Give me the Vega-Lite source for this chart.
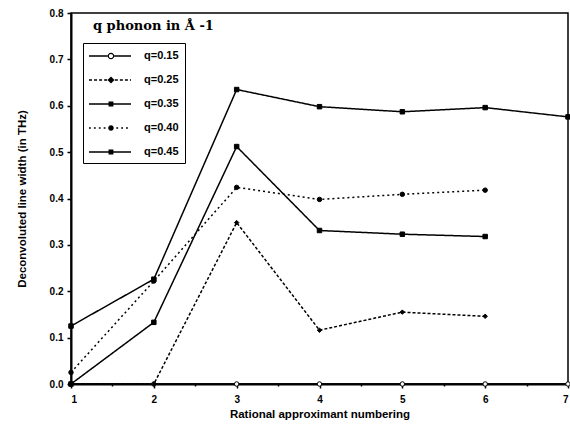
{
 "$schema": "https://vega.github.io/schema/vega-lite/v6.json",
 "width": 497,
 "height": 371,
 "autosize": {"type": "none"},
 "padding": {"left": 71, "top": 13, "right": 2, "bottom": 40},
 "background": "white",
 "title": {"text": "q phonon in Å -1", "anchor": "start", "frame": "group", "offset": -17, "dx": 22, "dy": 18, "font": "DejaVu Serif", "fontSize": 13, "fontWeight": "bold", "color": "black", "baseline": "alphabetic"},
 "config": {
  "view": {"stroke": "black", "strokeWidth": 1.5},
  "axis": {"grid": false, "domainColor": "black", "domainWidth": 2, "tickColor": "black", "tickWidth": 1.5, "labelColor": "black", "titleColor": "black", "labelFont": "Liberation Sans", "titleFont": "Liberation Sans", "labelFontWeight": "bold", "titleFontWeight": "bold", "labelFontSize": 10, "titleFontSize": 11.5}
 },
 "data": {"values": [
  {"s": "q=0.15", "x": 1, "y": 0}, {"s": "q=0.15", "x": 2, "y": 0}, {"s": "q=0.15", "x": 3, "y": 0}, {"s": "q=0.15", "x": 4, "y": 0}, {"s": "q=0.15", "x": 5, "y": 0}, {"s": "q=0.15", "x": 6, "y": 0}, {"s": "q=0.15", "x": 7, "y": 0},
  {"s": "q=0.25", "x": 1, "y": 0}, {"s": "q=0.25", "x": 2, "y": 0}, {"s": "q=0.25", "x": 3, "y": 0.348}, {"s": "q=0.25", "x": 4, "y": 0.116}, {"s": "q=0.25", "x": 5, "y": 0.155}, {"s": "q=0.25", "x": 6, "y": 0.146},
  {"s": "q=0.35", "x": 1, "y": 0}, {"s": "q=0.35", "x": 2, "y": 0.133}, {"s": "q=0.35", "x": 3, "y": 0.512}, {"s": "q=0.35", "x": 4, "y": 0.331}, {"s": "q=0.35", "x": 5, "y": 0.323}, {"s": "q=0.35", "x": 6, "y": 0.318},
  {"s": "q=0.40", "x": 1, "y": 0.025}, {"s": "q=0.40", "x": 2, "y": 0.222}, {"s": "q=0.40", "x": 3, "y": 0.424}, {"s": "q=0.40", "x": 4, "y": 0.398}, {"s": "q=0.40", "x": 5, "y": 0.409}, {"s": "q=0.40", "x": 6, "y": 0.418},
  {"s": "q=0.45", "x": 1, "y": 0.125}, {"s": "q=0.45", "x": 2, "y": 0.226}, {"s": "q=0.45", "x": 3, "y": 0.635}, {"s": "q=0.45", "x": 4, "y": 0.598}, {"s": "q=0.45", "x": 5, "y": 0.587}, {"s": "q=0.45", "x": 6, "y": 0.596}, {"s": "q=0.45", "x": 7, "y": 0.576}
 ]},
 "layer": [
  {
   "mark": {"type": "line", "color": "black", "strokeWidth": 1.5},
   "encoding": {
    "x": {"field": "x", "type": "quantitative", "scale": {"domain": [1, 7], "nice": false, "zero": false}, "axis": {"values": [1, 1.5, 2, 2.5, 3, 3.5, 4, 4.5, 5, 5.5, 6, 6.5, 7], "labelExpr": "datum.value % 1 == 0 ? format(datum.value, 'd') : ''", "tickSize": {"condition": {"test": "datum.value % 1 == 0", "value": 4}, "value": 2}, "labelPadding": 6, "title": "Rational approximant numbering", "titlePadding": 4}},
    "y": {"field": "y", "type": "quantitative", "scale": {"domain": [0, 0.8], "nice": false}, "axis": {"values": [0, 0.05, 0.1, 0.15, 0.2, 0.25, 0.3, 0.35, 0.4, 0.45, 0.5, 0.55, 0.6, 0.65, 0.7, 0.75, 0.8], "labelExpr": "abs(datum.value * 10 - round(datum.value * 10)) < 0.001 ? format(datum.value, '.1f') : ''", "tickSize": {"condition": {"test": "abs(datum.value * 10 - round(datum.value * 10)) < 0.001", "value": 4}, "value": 2}, "labelPadding": 4, "title": "Deconvoluted line width (in THz)", "titlePadding": 22}},
    "strokeDash": {"field": "s", "type": "nominal", "scale": {"range": [[1, 0], [3, 2], [1, 0], [2, 3], [1, 0]]}, "legend": null}
   }
  },
  {
   "mark": {"type": "point", "filled": true, "stroke": "black", "strokeWidth": 1, "size": 20, "opacity": 1},
   "encoding": {
    "x": {"field": "x", "type": "quantitative"},
    "y": {"field": "y", "type": "quantitative"},
    "shape": {"field": "s", "type": "nominal", "scale": {"range": ["circle", "diamond", "square", "circle", "square"]}, "legend": null},
    "fill": {"field": "s", "type": "nominal", "scale": {"range": ["white", "black", "black", "black", "black"]}, "legend": null}
   }
  },
  {
   "transform": [{"filter": "datum.x > 100"}],
   "mark": {"type": "point", "filled": true, "color": "black", "size": 196, "opacity": 1},
   "encoding": {
    "x": {"field": "x", "type": "quantitative"},
    "y": {"field": "y", "type": "quantitative"},
    "shape": {"field": "s", "type": "nominal", "scale": {"domain": ["q=0.15", "q=0.25", "q=0.35", "q=0.40", "q=0.45"], "range": [
      "M-1,-0.11L1.67,-0.11L1.67,0.11L-1,0.11ZM2.61,-0.11L5,-0.11L5,0.11L2.61,0.11ZM1.67,0A0.47,0.47,0,1,1,2.61,0A0.47,0.47,0,1,1,1.67,0ZM1.84,0A0.3,0.3,0,1,0,2.44,0A0.3,0.3,0,1,0,1.84,0Z",
      "M-1,-0.1L-0.57,-0.1L-0.57,0.1L-1,0.1ZM-0.28,-0.1L0.15,-0.1L0.15,0.1L-0.28,0.1ZM0.44,-0.1L0.87,-0.1L0.87,0.1L0.44,0.1ZM1.16,-0.1L1.59,-0.1L1.59,0.1L1.16,0.1ZM2.69,-0.1L3.12,-0.1L3.12,0.1L2.69,0.1ZM3.41,-0.1L3.84,-0.1L3.84,0.1L3.41,0.1ZM4.13,-0.1L4.56,-0.1L4.56,0.1L4.13,0.1ZM4.85,-0.1L5,-0.1L5,0.1L4.85,0.1ZM2.14,-0.5L2.64,0L2.14,0.5L1.64,0Z",
      "M-1,-0.11L5,-0.11L5,0.11L-1,0.11ZM1.79,-0.36L2.49,-0.36L2.49,0.36L1.79,0.36Z",
      "M-1,-0.1L-0.74,-0.1L-0.74,0.1L-1,0.1ZM-0.3,-0.1L-0.04,-0.1L-0.04,0.1L-0.3,0.1ZM0.4,-0.1L0.66,-0.1L0.66,0.1L0.4,0.1ZM1.1,-0.1L1.36,-0.1L1.36,0.1L1.1,0.1ZM2.9,-0.1L3.16,-0.1L3.16,0.1L2.9,0.1ZM3.6,-0.1L3.86,-0.1L3.86,0.1L3.6,0.1ZM4.3,-0.1L4.56,-0.1L4.56,0.1L4.3,0.1ZM1.74,0A0.4,0.4,0,1,1,2.54,0A0.4,0.4,0,1,1,1.74,0Z",
      "M-1,-0.11L5,-0.11L5,0.11L-1,0.11ZM1.79,-0.36L2.49,-0.36L2.49,0.36L1.79,0.36Z"
     ]},
     "legend": {"title": null, "orient": "none", "legendX": 12, "legendY": 30, "strokeColor": "black", "padding": 6, "rowPadding": 12, "symbolSize": 196, "symbolOpacity": 1, "symbolFillColor": "black", "symbolStrokeWidth": 0, "labelOffset": 41, "labelFont": "Liberation Sans", "labelFontSize": 11, "labelFontWeight": "bold", "labelColor": "black", "labelExpr": "datum.label + '       '"}}
   }
  }
 ],
 "resolve": {
  "scale": {"shape": "independent", "fill": "independent", "strokeDash": "independent"},
  "legend": {"shape": "independent", "fill": "independent", "strokeDash": "independent"}
 }
}
